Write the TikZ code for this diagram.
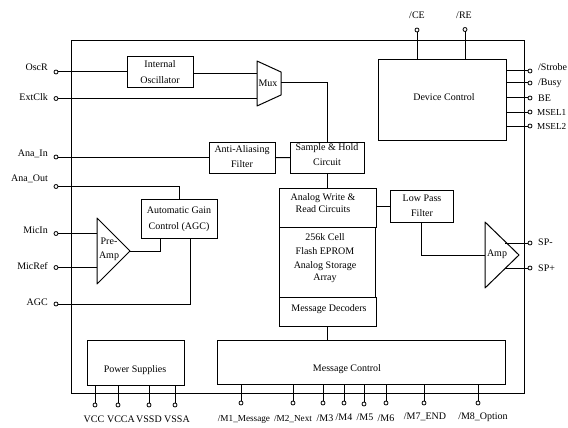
\documentclass[tikz,border=0pt]{standalone}
\usepackage{fontspec}
\setmainfont{Liberation Serif}
\tikzset{
	block/.style={draw, line width=1pt, align=center, inner sep=0pt, outer sep=0pt, font=\fontsize{10}{12}\selectfont},
	pinend/.style={circle, draw, line width=0.8pt, fill=white, minimum size=4pt, inner sep=0pt, outer sep=0pt},
	pinlabel/.style={inner sep=0pt, font=\fontsize{10}{12}\selectfont},
	smalllabel/.style={inner sep=0pt, font=\fontsize{9.2}{11}\selectfont},
	wire/.style={line width=1pt}
}
\begin{document}
\begin{tikzpicture}[x=1pt,y=-1pt]
	\useasboundingbox (0,0) rectangle (568,428);
	% frame
	\node[block, minimum width=453pt, minimum height=352pt] (chip) at (297.5,217) {};
	% blocks
	\node[block, minimum width=65.5pt, minimum height=31pt] (osc) at (160.25,72.5) {};
	\node[block, minimum width=66pt, minimum height=31.5pt] (filter) at (242,157.75) {};
	\node[block, minimum width=74pt, minimum height=31pt] (hold) at (327,157.5) {};
	\node[block, minimum width=128pt, minimum height=80pt] (ctrl) at (442,100) {};
	\node[block, minimum width=76pt, minimum height=39pt] (gain) at (179,218.5) {};
	\node[block, minimum width=97pt, minimum height=39pt] (write) at (327.5,207.5) {};
	\node[block, minimum width=96pt, minimum height=70pt] (array) at (327,262) {};
	\node[block, minimum width=97pt, minimum height=29pt] (decode) at (327.5,311.5) {};
	\node[block, minimum width=63pt, minimum height=32pt] (lowpass) at (421.5,206) {};
	\node[block, minimum width=97pt, minimum height=45pt] (power) at (135.5,362.5) {};
	\node[block, minimum width=288pt, minimum height=44pt] (msgctrl) at (361,362) {};
	% block texts
	\node[pinlabel, align=center] (osclabel) at (160,72) {Internal\\[4pt]Oscillator};
	\node[pinlabel, align=center] (filterlabel) at (242,157) {Anti-Aliasing\\[3pt]Filter};
	\node[pinlabel, align=center] (holdlabel) at (327,155) {Sample \& Hold\\[3pt]Circuit};
	\node[pinlabel] (ctrllabel) at (444,97) {Device Control};
	\node[pinlabel, align=center] (gainlabel) at (179,219) {Automatic Gain\\[4pt]Control (AGC)};
	\node[pinlabel, align=center] (writelabel) at (323,203) {Analog Write \&\\Read Circuits};
	\node[pinlabel, align=center] (arraylabel) at (325,258) {256k Cell\\[2pt]Flash EPROM\\[2pt]Analog Storage\\Array};
	\node[pinlabel] (decodelabel) at (329,309) {Message Decoders};
	\node[pinlabel, align=center] (lowpasslabel) at (422,206) {Low Pass\\[3pt]Filter};
	\node[pinlabel] (powerlabel) at (135,370) {Power Supplies};
	\node[pinlabel] (msgctrllabel) at (347,369) {Message Control};
	% mux and amps
	\coordinate (muxout) at (281,83);
	\draw[wire, line join=round] (257,61) -- (281,72) -- (281,95) -- (257,106) -- cycle;
	\node[pinlabel] (muxlabel) at (268,83) {Mux};
	\coordinate (preout) at (130,251);
	\draw[wire, line join=round] (97,218) -- (130,251) -- (97,284) -- cycle;
	\node[pinlabel, align=center] (prelabel) at (109,249) {Pre-\\[2pt]Amp};
	\coordinate (ampin) at (485,255);
	\draw[wire, line join=round] (485,222) -- (519,255) -- (485,288) -- cycle;
	\node[pinlabel] (amplabel) at (497,254) {Amp};
	% left pins
	\node[pinend] (oscr) at (56,72) {};
	\node[pinend] (extclk) at (56,98.5) {};
	\node[pinend] (anain) at (56,157) {};
	\node[pinend] (anaout) at (56,186.5) {};
	\node[pinend] (micin) at (56,233.5) {};
	\node[pinend] (micref) at (56,267.5) {};
	\node[pinend] (agc) at (56,304) {};
	\node[pinlabel, anchor=east] (oscrlabel) at (48,67) {OscR};
	\node[pinlabel, anchor=east] (extclklabel) at (48,97) {ExtClk};
	\node[pinlabel, anchor=east] (anainlabel) at (48,154) {Ana\_In};
	\node[pinlabel, anchor=east] (anaoutlabel) at (48,179) {Ana\_Out};
	\node[pinlabel, anchor=east] (micinlabel) at (48,230) {MicIn};
	\node[pinlabel, anchor=east] (micreflabel) at (48,266) {MicRef};
	\node[pinlabel, anchor=east] (agclabel) at (48,302) {AGC};
	% top pins
	\node[pinend] (ce) at (417,30) {};
	\node[pinend] (re) at (465,29.5) {};
	\node[pinlabel] (celabel) at (417,15) {/CE};
	\node[pinlabel] (relabel) at (464,15) {/RE};
	% right pins
	\node[pinend] (strobe) at (530,71) {};
	\node[pinend] (busy) at (530,83) {};
	\node[pinend] (be) at (530,98) {};
	\node[pinend] (msela) at (530,112) {};
	\node[pinend] (mselb) at (530,126) {};
	\node[pinend] (spm) at (530,243) {};
	\node[pinend] (spp) at (530,268) {};
	\node[pinlabel, anchor=west] (strobelabel) at (538,67) {/Strobe};
	\node[pinlabel, anchor=west] (busylabel) at (538,83) {/Busy};
	\node[pinlabel, anchor=west] (belabel) at (538,98) {BE};
	\node[smalllabel, anchor=west] (mselalabel) at (537,112) {MSEL1};
	\node[smalllabel, anchor=west] (mselblabel) at (537,126) {MSEL2};
	\node[pinlabel, anchor=west] (spmlabel) at (538,242) {SP-};
	\node[pinlabel, anchor=west] (spplabel) at (538,268) {SP+};
	% bottom pins
	\node[pinend] (vcc) at (95,405) {};
	\node[pinend] (vcca) at (118,405) {};
	\node[pinend] (vssd) at (149,405) {};
	\node[pinend] (vssa) at (175,405) {};
	\node[pinend] (mone) at (241,403) {};
	\node[pinend] (mtwo) at (293,403) {};
	\node[pinend] (mthree) at (323,403) {};
	\node[pinend] (mfour) at (344,403) {};
	\node[pinend] (mfive) at (364,404) {};
	\node[pinend] (msix) at (386,403) {};
	\node[pinend] (mseven) at (424,403) {};
	\node[pinend] (meight) at (478,403) {};
	\node[pinlabel] (vcclabel) at (94,419) {VCC};
	\node[pinlabel] (vccalabel) at (121,419) {VCCA};
	\node[pinlabel] (vssdlabel) at (149,419) {VSSD};
	\node[pinlabel] (vssalabel) at (177,419) {VSSA};
	\node[smalllabel] (monelabel) at (244,419) {/M1\_Message};
	\node[smalllabel] (mtwolabel) at (293,419) {/M2\_Next};
	\node[pinlabel] (mthreelabel) at (325,418) {/M3};
	\node[pinlabel] (mfourlabel) at (344,417) {/M4};
	\node[pinlabel] (mfivelabel) at (365,417) {/M5};
	\node[pinlabel] (msixlabel) at (386,418) {/M6};
	\node[pinlabel] (msevenlabel) at (425,417) {/M7\_END};
	\node[pinlabel] (meightlabel) at (483,417) {/M8\_Option};
	% wires on the left side
	\draw[wire] (oscr) -- (oscr -| osc.west);
	\draw[wire] (extclk) -- (257,98.5);
	\draw[wire] (osc.east |- 0,74) -- (257,74);
	\draw[wire] (muxout) -- (hold.north |- muxout) -- (hold.north);
	\draw[wire] (anain) -- (anain -| filter.west);
	\draw[wire] (filter.east) -- (hold.west);
	\draw[wire] (anaout) -- (gain.north |- anaout) -- (gain.north);
	\draw[wire] (micin) -- (97,233.5);
	\draw[wire] (micref) -- (97,267.5);
	\draw[wire] (preout) -- (160,251) -- (160,238);
	\draw[wire] (agc) -- (190,304) -- (190,238);
	% wires in the middle
	\draw[wire] (hold.south) -- (write.north -| hold.south);
	\draw[wire] (write.east |- lowpass.west) -- (lowpass.west);
	\draw[wire] (lowpass.south) -- (ampin -| lowpass.south) -- (ampin);
	\draw[wire] (decode.south) -- (msgctrl.north -| decode.south);
	\draw[wire] (505,243) -- (spm);
	\draw[wire] (505,268) -- (spp);
	% wires of device control
	\draw[wire] (ce) -- (ce |- ctrl.north);
	\draw[wire] (re) -- (re |- ctrl.north);
	\draw[wire] (strobe) -- (strobe -| ctrl.east);
	\draw[wire] (busy) -- (busy -| ctrl.east);
	\draw[wire] (be) -- (be -| ctrl.east);
	\draw[wire] (msela) -- (msela -| ctrl.east);
	\draw[wire] (mselb) -- (mselb -| ctrl.east);
	% wires at the bottom
	\draw[wire] (vcc) -- (vcc |- power.south);
	\draw[wire] (vcca) -- (vcca |- power.south);
	\draw[wire] (vssd) -- (vssd |- power.south);
	\draw[wire] (vssa) -- (vssa |- power.south);
	\draw[wire] (mone) -- (mone |- msgctrl.south);
	\draw[wire] (mtwo) -- (mtwo |- msgctrl.south);
	\draw[wire] (mthree) -- (mthree |- msgctrl.south);
	\draw[wire] (mfour) -- (mfour |- msgctrl.south);
	\draw[wire] (mfive) -- (mfive |- msgctrl.south);
	\draw[wire] (msix) -- (msix |- msgctrl.south);
	\draw[wire] (mseven) -- (mseven |- msgctrl.south);
	\draw[wire] (meight) -- (meight |- msgctrl.south);
\end{tikzpicture}
\end{document}
